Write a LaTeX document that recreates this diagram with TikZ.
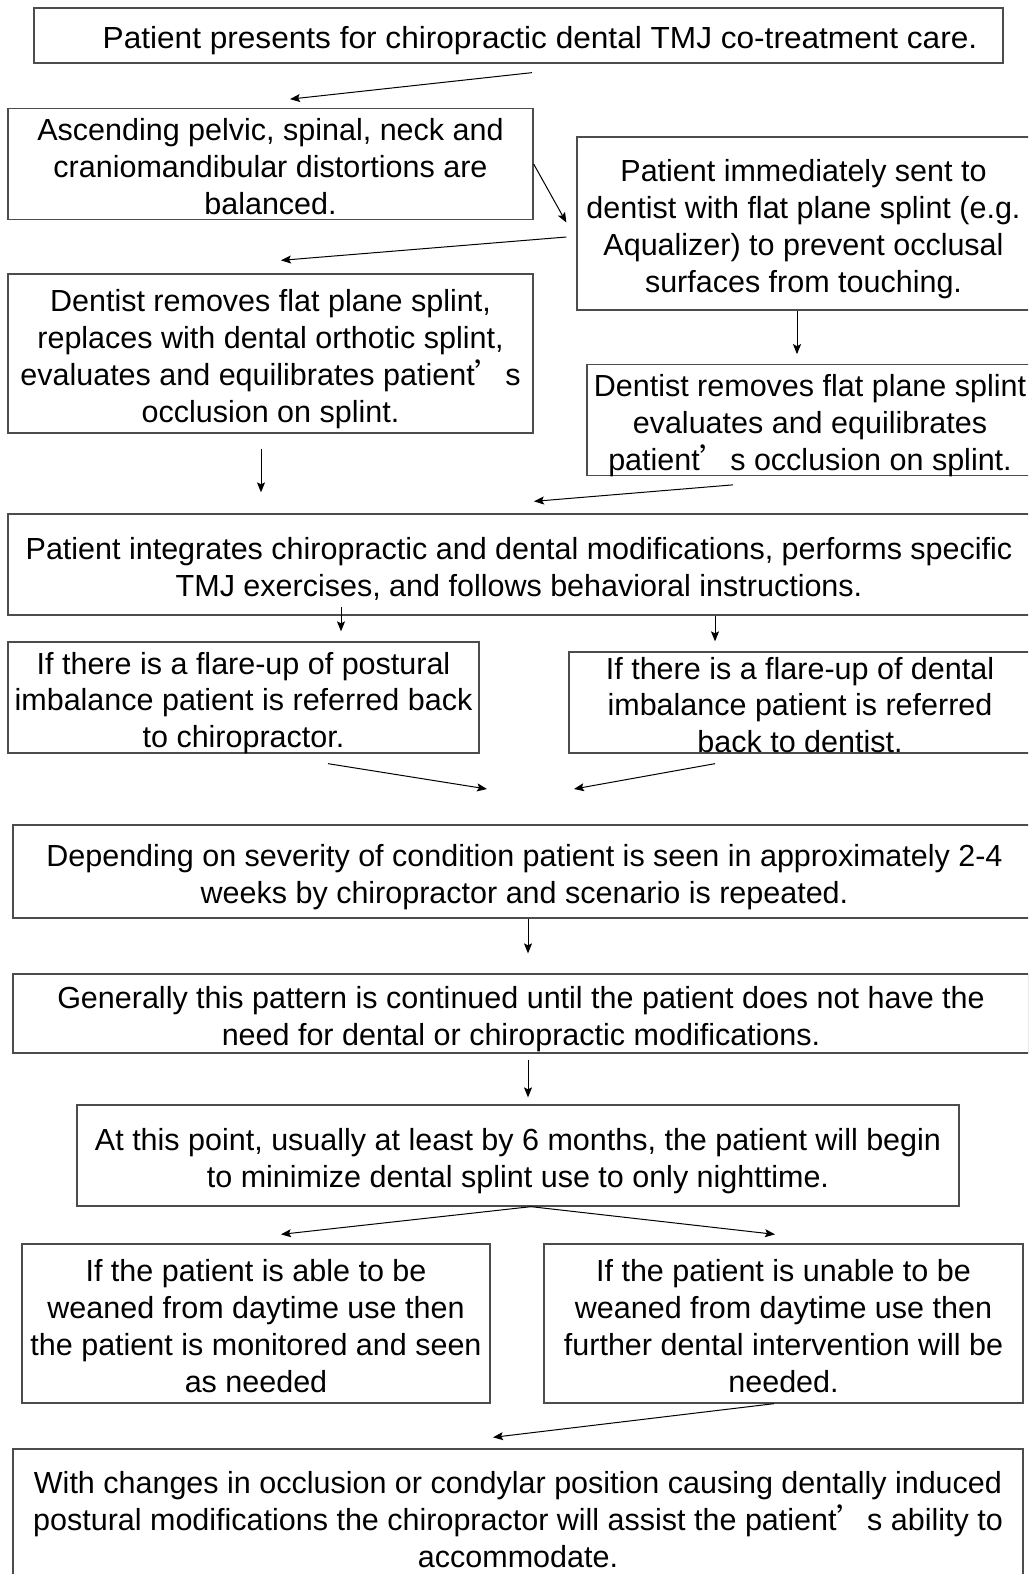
\documentclass[tikz,border=0pt]{standalone}
\usepackage{fontspec}
\setmainfont{Liberation Sans}
\newfontfamily\cjk{Noto Sans CJK SC}
\usepackage{tikz}
\usetikzlibrary{calc}
\usetikzlibrary{positioning}
\usetikzlibrary{arrows.meta}
\newcommand{\apos}{{\cjk ’}}
% centred lines, set a little low in their box
\newcommand{\boxtext}[1]{\raisebox{-6pt}[\height][\depth]{\begin{tabular}{@{}c@{}}#1\end{tabular}}}

\begin{document}
\begin{tikzpicture}
	[
	x=1pt, y=-1pt,
	font=\fontsize{30.5}{36.8}\selectfont,
	>={Stealth[length=10pt,width=8pt,inset=2pt]}
	]
	
	% Box and arrow styles
	\tikzstyle{step box}=[draw=black!70,line width=1.3pt,inner sep=0pt];
	\tikzstyle{flow}=[->,line width=1pt];
	
	% Page
	\useasboundingbox[fill=white](0,0)rectangle(1028,1574);
	\clip(0,0)rectangle(1028,1574);
	
	% Boxes, top to bottom
	\node(A)[step box,minimum width=969pt,minimum height=55pt]at(518.5,35.5)
		{\boxtext{\hspace*{43pt}\scalebox{1.036}[1]{Patient presents for chiropractic dental TMJ co-treatment care.}}};
	\node(B)[step box,minimum width=525pt,minimum height=110pt]at(270.5,164)
		{\boxtext{Ascending pelvic, spinal, neck and\\craniomandibular distortions are\\balanced.}};
	\node(C)[step box,minimum width=453pt,minimum height=173pt]at(803.5,223.5)
		{\boxtext{Patient immediately sent to\\dentist with flat plane splint (e.g.\\Aqualizer) to prevent occlusal\\surfaces from touching.}};
	\node(D)[step box,minimum width=525pt,minimum height=159pt]at(270.5,353.5)
		{\boxtext{Dentist removes flat plane splint,\\replaces with dental orthotic splint,\\evaluates and equilibrates patient\apos s\\occlusion on splint.}};
	\node(E)[step box,minimum width=446pt,minimum height=110pt]at(810,420)
		{\boxtext{Dentist removes flat plane splint\\evaluates and equilibrates\\patient\apos s occlusion on splint.}};
	\node(F)[step box,minimum width=1022pt,minimum height=101pt]at(519,564.5)
		{\boxtext{Patient integrates chiropractic and dental modifications, performs specific\\TMJ exercises, and follows behavioral instructions.}};
	\node(G)[step box,minimum width=471pt,minimum height=111pt]at(243.5,697.5)
		{\boxtext{If there is a flare-up of postural\\imbalance patient is referred back\\to chiropractor.}};
	\node(H)[step box,minimum width=462pt,minimum height=101pt,inner ysep=-6pt]at(800,702.5)
		{\boxtext{If there is a flare-up of dental\\imbalance patient is referred\\back to dentist.}};
	\node(I)[step box,minimum width=1023pt,minimum height=93pt]at(524.5,871.5)
		{\boxtext{Depending on severity of condition patient is seen in approximately 2-4\\weeks by chiropractor and scenario is repeated.}};
	\node(J)[step box,minimum width=1016pt,minimum height=79pt]at(521,1013.5)
		{\boxtext{Generally this pattern is continued until the patient does not have the\\need for dental or chiropractic modifications.}};
	\node(K)[step box,minimum width=882pt,minimum height=101pt]at(518,1155.5)
		{\boxtext{At this point, usually at least by 6 months, the patient will begin\\to minimize dental splint use to only nighttime.}};
	\node(L)[step box,minimum width=468pt,minimum height=159pt]at(256,1323.5)
		{\boxtext{If the patient is able to be\\weaned from daytime use then\\the patient is monitored and seen\\as needed}};
	\node(M)[step box,minimum width=479pt,minimum height=159pt]at(783.5,1323.5)
		{\boxtext{If the patient is unable to be\\weaned from daytime use then\\further dental intervention will be\\needed.}};
	\node(N)[step box,minimum width=1010pt,minimum height=136pt]at(518,1517)
		{\boxtext{With changes in occlusion or condylar position causing dentally induced\\postural modifications the chiropractor will assist the patient\apos s ability to\\accommodate.}};
	
	% Loose arrow ends between the flare-up boxes
	\coordinate(G end)at(487,789);
	\coordinate(H end)at(574,789);
	
	% Arrows
	\draw[flow]([shift={(13.5,9)}]A.south)--([shift={(19.5,-9)}]B.north);
	\draw[flow](B.east)--([shift={(-10,-1)}]C.west);
	\draw[flow]([shift={(-10,13.5)}]C.west)--([shift={(10.5,-13)}]D.north);
	\draw[flow]([shift={(-6.5,0)}]C.south)--([shift={(-13,-10)}]E.north);
	\draw[flow]([shift={(-9.5,15)}]D.south)--([shift={(-258,-21)}]F.north);
	\draw[flow]([shift={(-77,9)}]E.south)--([shift={(15,-12)}]F.north);
	\draw[flow]([shift={(-178,-9)}]F.south)--([shift={(97.5,-10)}]G.north);
	\draw[flow]([shift={(196,0)}]F.south)--([shift={(-85,-10)}]H.north);
	\draw[flow]([shift={(84.5,10)}]G.south)--(G end);
	\draw[flow]([shift={(-85,10)}]H.south)--(H end);
	\draw[flow]([shift={(3.5,0)}]I.south)--([shift={(7,-20)}]J.north);
	\draw[flow]([shift={(7,6)}]J.south)--([shift={(10,-7)}]K.north);
	\foreach \x/\s in {L/25, M/-8.5}
		\draw[flow]([shift={(13,0)}]K.south)--([shift={(\s,-9)}]\x.north);
	\draw[flow]([shift={(-9.5,0)}]M.south)--([shift={(-25,-11)}]N.north);
\end{tikzpicture}
\end{document}
